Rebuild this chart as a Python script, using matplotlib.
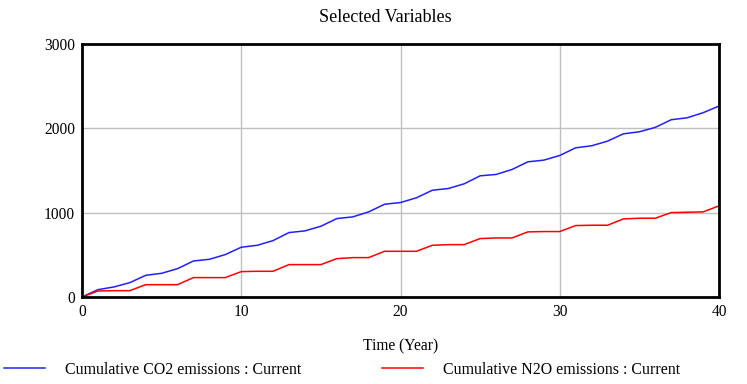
import matplotlib
matplotlib.use("Agg")
import matplotlib.pyplot as plt

# data
years = list(range(0, 41))
co2 = [0, 87, 119, 170, 257, 281, 336, 427, 447, 503,
       590, 613, 669, 764, 784, 839, 930, 950, 1009, 1100,
       1120, 1176, 1266, 1286, 1342, 1437, 1453, 1512, 1603, 1623,
       1678, 1769, 1793, 1848, 1935, 1959, 2011, 2102, 2125, 2185,
       2264]
n2o = [0, 71, 75, 75, 146, 146, 146, 230, 230, 230,
       301, 305, 305, 384, 384, 384, 455, 467, 467, 542,
       542, 542, 613, 621, 621, 693, 700, 700, 772, 776,
       776, 847, 851, 851, 926, 934, 934, 1001, 1005, 1009,
       1080]
x_ticks = [0, 10, 20, 30, 40]
y_ticks = [0, 1000, 2000, 3000]

plt.rcParams["font.family"] = ["Liberation Serif", "DejaVu Serif"]

W, H = 747, 384
fig = plt.figure(figsize=(W / 100, H / 100), dpi=100)
ax = fig.add_axes([82 / W, 1 - 297 / H, (719 - 82) / W, (297 - 44) / H])

l1, = ax.plot(years, co2, color="#2020ff", lw=1.1, label="Cumulative CO2 emissions : Current")
l2, = ax.plot(years, n2o, color="#ff0000", lw=1.1, label="Cumulative N2O emissions : Current")

ax.set_xlim(0, 40)
ax.set_ylim(0, 3000)
ax.set_xticks(x_ticks)
ax.set_yticks(y_ticks)
ax.tick_params(length=0, labelsize=11.2, pad=5)
ax.grid(True, color="#c0c0c0", lw=1)
for s in ax.spines.values():
    s.set_linewidth(2)
    s.set_color("black")

ax.set_xlabel("Time (Year)", fontsize=11.2, labelpad=13)
fig.text(385 / W, 1 - 18 / H, "Selected Variables", ha="center", va="center", fontsize=13)

fig.legend(handles=[l1, l2], loc="center left", bbox_to_anchor=(4 / W, 1 - 370 / H),
           ncol=2, frameon=False, fontsize=11.4, handlelength=2.6, handletextpad=1.25,
           columnspacing=5.1, borderaxespad=0, borderpad=0)

fig.savefig("out.png", dpi=100)
